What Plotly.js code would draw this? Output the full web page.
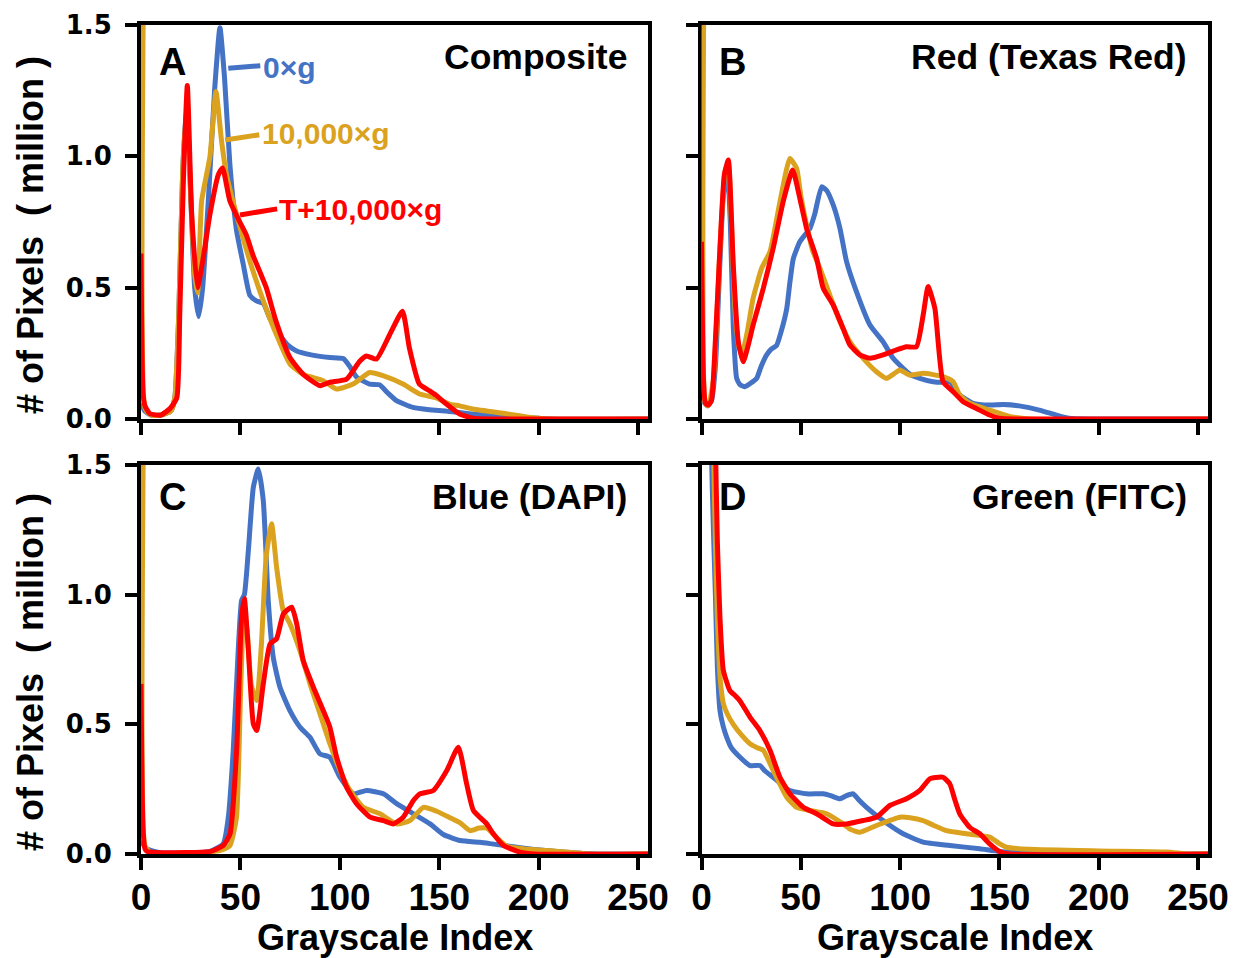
<!DOCTYPE html>
<html>
<head>
<meta charset="utf-8">
<script src="https://cdn.plot.ly/plotly-3.0.1.min.js"></script>
<style>html,body{margin:0;padding:0;background:#fff;}#chart{width:1241px;height:958px;}</style>
</head>
<body>
<div id="chart"></div>
<script>
// ---------- DATA ----------
const seriesNames = ["0×g", "10,000×g", "T+10,000×g"];
const panelTitles = ["Composite", "Red (Texas Red)", "Blue (DAPI)", "Green (FITC)"];
const panelLetters = ["A", "B", "C", "D"];
const xTicks = [0, 50, 100, 150, 200, 250];
const yTicks = [0, 0.5, 1.0, 1.5];
const yTickText = ["0.0", "0.5", "1.0", "1.5"];

// Panel A – Composite
const A_blue_x = [0,2,5,10,15,17,19,21,23,25,27,29,31,34,37,39.7,42,44.7,48,51.4,54.8,58,61.5,65,69.8,74,78,85,95,101.7,105,108.4,115,120,124,128.5,136.8,145,153.6,165,180,195,205,255];
const A_blue_y = [0.06,0.03,0.015,0.015,0.03,0.08,0.4,0.95,1.2,0.85,0.5,0.39,0.5,0.85,1.25,1.49,1.3,0.97,0.72,0.59,0.47,0.45,0.44,0.38,0.32,0.28,0.26,0.245,0.234,0.23,0.2,0.16,0.133,0.13,0.1,0.07,0.044,0.035,0.03,0.02,0.012,0.005,0,0];
const A_gold_x = [0,1,2,5,10,15,17,19,21,23,25,27,28.5,30.5,34.7,37.7,40.5,43,48,54.8,61.5,68.2,74.9,81.6,91.6,98.3,106.7,115,121.7,131.8,140.2,148.5,155,160.3,167,183.7,197,205,255];
const A_gold_y = [3,3,0.04,0.015,0.015,0.03,0.08,0.4,0.95,1.18,0.85,0.55,0.48,0.83,1.0,1.247,1.06,0.93,0.78,0.6,0.45,0.32,0.21,0.17,0.146,0.114,0.133,0.177,0.165,0.133,0.095,0.08,0.057,0.05,0.038,0.02,0.005,0,0];
const A_red_x = [0,1,2,4.5,10,14.6,18,19.5,21.3,23.3,25.5,28.4,31,34.7,38.9,41,44.7,49.7,53,56.5,59.8,63,68,74.9,81.6,90,95,103.4,110,113.4,118.4,125,131.5,135,140,145.2,148.5,153.6,160.3,167,175,255];
const A_red_y = [0.63,0.1,0.05,0.02,0.015,0.04,0.08,0.4,0.9,1.27,0.78,0.5,0.6,0.78,0.93,0.956,0.83,0.75,0.7,0.62,0.56,0.5,0.37,0.234,0.17,0.127,0.14,0.152,0.22,0.24,0.228,0.32,0.41,0.27,0.133,0.107,0.09,0.057,0.019,0.003,0,0];

// Panel B – Red (Texas Red)
const B_blue_x = [0,1,3,5,7,9,11,13,14.5,16,17.7,19.5,21.9,24.5,27.8,30,32.8,35,37.8,40,42.9,44.5,46.2,49.5,54.6,57,60.5,63,66.3,69.7,73,78,84.8,91.4,96.5,101.5,105,109.9,116.6,121,125,127.5,130,136.7,145,152,160,170,178.7,185,195,255];
const B_blue_y = [0.07,0.066,0.05,0.07,0.2,0.55,0.85,0.95,0.75,0.35,0.155,0.13,0.123,0.135,0.155,0.2,0.244,0.265,0.28,0.33,0.42,0.52,0.61,0.675,0.726,0.78,0.884,0.87,0.815,0.726,0.6,0.485,0.358,0.294,0.231,0.193,0.17,0.155,0.142,0.14,0.142,0.12,0.091,0.06,0.053,0.055,0.05,0.034,0.015,0.003,0,0];
const B_gold_x = [0,0.8,1.8,3.4,6,9.3,12,13.5,15,17,19,20.5,23,26,30.3,34.5,39.5,44.5,47.9,50,52.9,56,59.6,64.6,69.7,74.7,81.4,88.1,93.2,96.5,99.8,104.9,111.6,116,121.6,126.7,130,135,145,155,165,255];
const B_gold_y = [3,3,0.06,0.05,0.15,0.65,0.95,0.97,0.75,0.4,0.27,0.25,0.33,0.46,0.574,0.637,0.827,0.992,0.954,0.85,0.738,0.64,0.574,0.472,0.37,0.294,0.231,0.18,0.155,0.17,0.187,0.167,0.174,0.17,0.161,0.142,0.091,0.06,0.034,0.01,0,0];
const B_red_x = [0,1,2,3.4,5,7,9.3,11.5,13.5,16,18.5,21,23.5,26,31.1,36.1,41.1,45.9,49.5,52.9,58,61.3,66.3,71.3,74.7,79.7,84.8,91.4,98.2,103.2,108.2,111.6,114.1,117.5,121.6,126.7,131.7,138.4,145,150,158,255];
const B_red_y = [0.675,0.15,0.06,0.053,0.07,0.3,0.65,0.93,0.986,0.586,0.294,0.218,0.28,0.358,0.497,0.65,0.827,0.948,0.84,0.726,0.61,0.497,0.434,0.345,0.282,0.244,0.231,0.244,0.263,0.275,0.275,0.396,0.504,0.421,0.142,0.104,0.066,0.04,0.015,0.003,0,0];

// Panel C – Blue (DAPI)
const C_blue_x = [0,2.9,10,34.7,41.4,43.9,46.4,48.9,50.6,52,54,56.5,59,61.5,64,66.5,69.9,74.9,80,85,90,95,100.1,106.8,113.5,121.9,128.6,137,145.4,152.1,160.5,170.5,175.6,190,200.7,212,222,230,255];
const C_blue_y = [0.05,0.02,0.005,0.01,0.04,0.14,0.4,0.785,0.978,1.0,1.17,1.414,1.485,1.363,0.978,0.759,0.643,0.553,0.489,0.45,0.386,0.373,0.296,0.232,0.245,0.232,0.194,0.155,0.116,0.075,0.052,0.045,0.04,0.025,0.015,0.008,0.002,0,0];
const C_gold_x = [0,1,2,5,35,42,44.8,48,50,51.8,53.5,55.5,58.2,60.5,63,65.7,68.2,71.5,74.9,79.9,85,90,95,100.1,105.1,111.8,120.2,128.6,135.3,142,148.7,155.4,160.5,165.5,170,174,178,184,195,210,218,225,255];
const C_gold_y = [3,3,0.03,0.005,0.008,0.02,0.033,0.14,0.6,0.95,0.85,0.65,0.592,0.8,1.15,1.273,1.106,0.939,0.888,0.785,0.656,0.541,0.425,0.322,0.245,0.18,0.155,0.116,0.129,0.18,0.165,0.14,0.12,0.09,0.1,0.1,0.07,0.03,0.018,0.01,0.005,0,0];
const C_red_x = [0,1,2,3,10,35,41.4,44.8,48.1,50.6,52,54,56.5,58.2,61.5,64.9,68.2,71.6,75.8,78.3,81.6,86.7,91.7,95,98.4,103.4,108.4,115.2,121.9,126.9,131.9,137,140.3,147,153.8,159.6,163.8,167.2,173.9,177.2,182.3,190.7,198,255];
const C_red_y = [0.656,0.1,0.02,0.01,0.005,0.01,0.033,0.078,0.4,0.913,0.984,0.785,0.502,0.476,0.656,0.81,0.83,0.926,0.952,0.888,0.746,0.643,0.553,0.489,0.373,0.258,0.194,0.142,0.129,0.116,0.142,0.206,0.232,0.245,0.322,0.412,0.27,0.168,0.116,0.078,0.033,0.007,0,0];

// Panel D – Green (FITC)
const D_blue_x = [0,3,5,6,7,8,9.3,11,12.7,15,19.4,24.4,29.4,32,36.1,40,44.5,52.9,61.3,65,69.7,73,76.4,79,83.1,91.4,101.5,111.6,125,140.1,150,160,175,255];
const D_blue_y = [6,3,1.55,1.25,1.0,0.72,0.553,0.49,0.45,0.41,0.373,0.341,0.341,0.32,0.296,0.27,0.245,0.232,0.232,0.225,0.213,0.225,0.232,0.21,0.18,0.129,0.078,0.046,0.033,0.02,0.01,0.005,0,0];
const D_gold_x = [0,4,6,7,8,9,10,11,13,16,20,24.4,28,31.1,36.1,42.9,47.9,54.6,63,71.3,75,79.7,88.1,99.8,105,111.6,117,123.3,133.4,145.1,150,153.5,165,200,234,245,255];
const D_gold_y = [6,3,1.6,1.2,0.9,0.72,0.63,0.58,0.54,0.5,0.46,0.425,0.41,0.4,0.322,0.219,0.18,0.168,0.155,0.116,0.095,0.084,0.11,0.142,0.14,0.129,0.11,0.09,0.078,0.065,0.04,0.026,0.018,0.012,0.008,0,0];
const D_red_x = [0,5,7,8,9.3,11,14.3,17,19.4,24.4,29.4,34.5,39.5,44.5,51.2,58,66.3,73,81.4,88.1,94.8,103.2,109.9,114.9,118,121.6,125,127.5,130,135,140.1,145.1,150,155,255];
const D_red_y = [6,3,1.6,1.2,0.913,0.708,0.63,0.61,0.59,0.528,0.476,0.4,0.296,0.232,0.18,0.155,0.116,0.116,0.129,0.142,0.187,0.213,0.245,0.29,0.295,0.296,0.271,0.21,0.155,0.103,0.078,0.039,0.01,0,0];

// ---------- STYLE ----------
const colors = ["#4472C4", "#DBA21F", "#FF0000"];
const panels = [
  {xs: [A_blue_x, A_gold_x, A_red_x], ys: [A_blue_y, A_gold_y, A_red_y]},
  {xs: [B_blue_x, B_gold_x, B_red_x], ys: [B_blue_y, B_gold_y, B_red_y]},
  {xs: [C_blue_x, C_gold_x, C_red_x], ys: [C_blue_y, C_gold_y, C_red_y]},
  {xs: [D_blue_x, D_gold_x, D_red_x], ys: [D_blue_y, D_gold_y, D_red_y]}
];

const W = 1241, H = 958;
const colPx = [[141, 648], [701.5, 1208]];
const rowPx = [[25, 419], [465, 854]];

const traces = [];
panels.forEach((p, i) => {
  const sfx = i === 0 ? "" : String(i + 1);
  for (let s = 0; s < 3; s++) {
    traces.push({
      type: "scatter", mode: "lines",
      x: p.xs[s], y: p.ys[s],
      name: seriesNames[s], showlegend: false,
      xaxis: "x" + sfx, yaxis: "y" + sfx,
      line: {color: colors[s], width: 5, shape: "spline", smoothing: 0.5},
      hoverinfo: "skip"
    });
  }
});

const layout = {
  width: W, height: H,
  margin: {l: 0, r: 0, t: 0, b: 0},
  paper_bgcolor: "#fff", plot_bgcolor: "#fff",
  showlegend: false,
  annotations: [], shapes: []
};

const xTickFont = {family: "Liberation Sans Narrow, Liberation Sans, Arial", size: 37, color: "#000", weight: "bold"};
const yTickFont = {family: "DejaVu Sans, Liberation Sans", size: 26, color: "#000", weight: "bold"};

for (let i = 0; i < 4; i++) {
  const col = i % 2, row = Math.floor(i / 2);
  const sfx = i === 0 ? "" : String(i + 1);
  const xd = [colPx[col][0] / W, colPx[col][1] / W];
  const yd = [1 - rowPx[row][1] / H, 1 - rowPx[row][0] / H];
  layout["xaxis" + sfx] = {
    domain: xd, anchor: "y" + sfx, range: [0, 255],
    tickvals: xTicks, showticklabels: row === 1,
    tickfont: xTickFont, ticks: "outside", ticklen: 12, tickwidth: 4, tickcolor: "#000",
    showline: true, linewidth: 4, linecolor: "#000", mirror: true,
    showgrid: false, zeroline: false, layer: "below traces", fixedrange: true,
    ticklabelstandoff: -4
  };
  layout["yaxis" + sfx] = {
    domain: yd, anchor: "x" + sfx, range: [0, 1.5],
    tickvals: yTicks, ticktext: yTickText, showticklabels: col === 0,
    tickfont: yTickFont, ticks: "outside", ticklen: 12, tickwidth: 4, tickcolor: "#000",
    showline: true, linewidth: 4, linecolor: "#000", mirror: true,
    showgrid: false, zeroline: false, layer: "below traces", fixedrange: true,
    ticklabelstandoff: 8
  };
  // panel letter
  layout.annotations.push({
    xref: "x" + sfx + " domain", yref: "y" + sfx + " domain",
    x: 0.062, y: (i < 2 ? 0.905 : 0.918), xanchor: "center", yanchor: "middle",
    text: panelLetters[i], showarrow: false,
    font: {family: "Liberation Sans, Arial", size: 38, color: "#000", weight: "bold"}
  });
  // panel title
  layout.annotations.push({
    xref: "x" + sfx + " domain", yref: "y" + sfx + " domain",
    x: 0.962, y: (i < 2 ? 0.92 : 0.918), xanchor: "right", yanchor: "middle",
    text: panelTitles[i], showarrow: false,
    font: {family: "Liberation Sans, Arial", size: 35.5, color: "#000", weight: "bold"}
  });
}

// axis titles
const titleFont = {family: "Liberation Sans Narrow, Liberation Sans, Arial", size: 36, color: "#000", weight: "bold"};
[[394.5], [955]].forEach((c) => {
  layout.annotations.push({xref: "paper", yref: "paper", x: c[0] / W, y: 1 - 937 / H,
    xanchor: "center", yanchor: "middle", text: "Grayscale Index", showarrow: false, font: titleFont});
});
[235, 672].forEach((cy) => {
  layout.annotations.push({xref: "paper", yref: "paper", x: 30 / W, y: 1 - cy / H,
    xanchor: "center", yanchor: "middle", textangle: -90, text: "# of Pixels  ( million )", showarrow: false, font: titleFont});
});

// in-plot series labels (panel A) with connector lines
const labelFont = (c) => ({family: "Liberation Sans, Arial", size: 30, color: c, weight: "bold"});
const seriesLabelPos = [[60.5, 1.34], [59.8, 1.088], [68.3, 0.796]];
const connectors = [[43.9, 1.335, 60, 1.345], [42.3, 1.062, 59.5, 1.082], [49.8, 0.777, 68.5, 0.8]];
for (let s = 0; s < 3; s++) {
  layout.annotations.push({xref: "x", yref: "y", x: seriesLabelPos[s][0], y: seriesLabelPos[s][1],
    xanchor: "left", yanchor: "middle", text: seriesNames[s], showarrow: false, font: labelFont(colors[s])});
  const c = connectors[s];
  layout.shapes.push({type: "line", xref: "x", yref: "y", x0: c[0], y0: c[1], x1: c[2], y1: c[3],
    line: {color: colors[s], width: 5}});
}

Plotly.newPlot("chart", traces, layout, {staticPlot: true, displayModeBar: false});
</script>
</body>
</html>
